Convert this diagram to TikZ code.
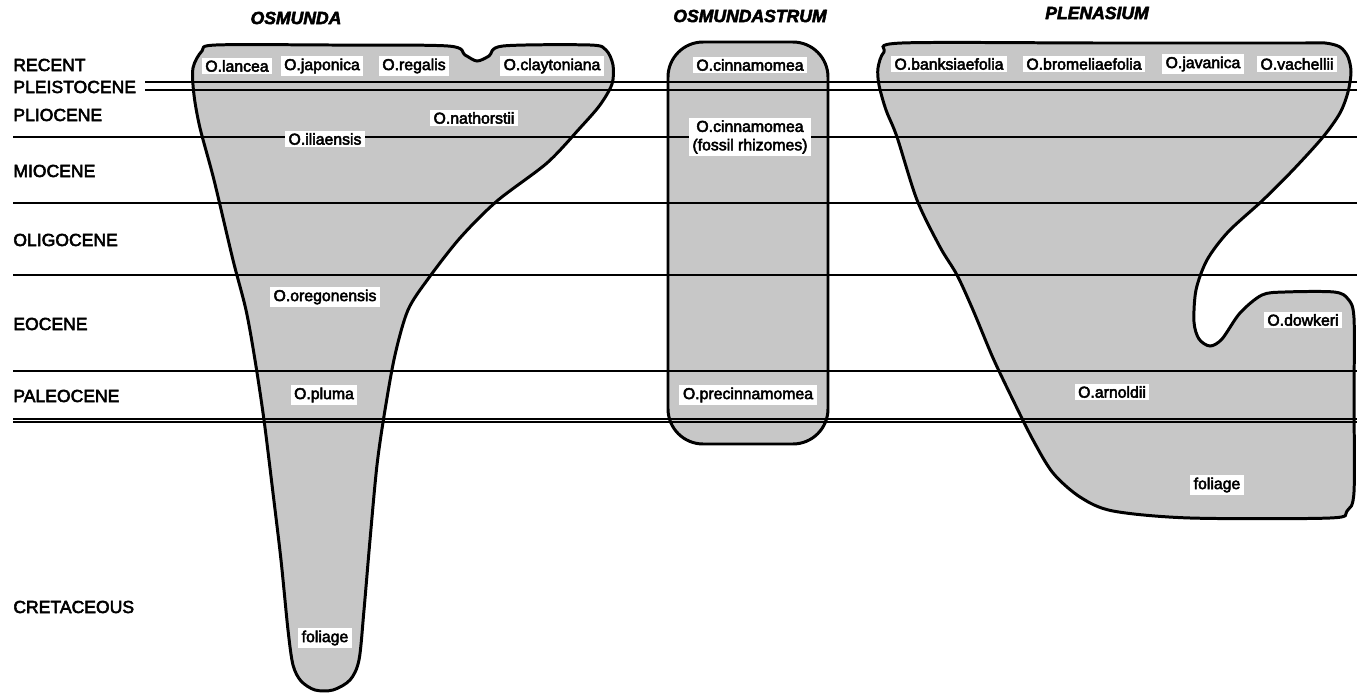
\documentclass[tikz,border=0pt]{standalone}
\usepackage{fontspec}
\setmainfont{Liberation Sans}[FakeBold=3]
\usepackage{tikz}

% outlines of the three ranges (pixel units, y downwards)
\newcommand{\osmundaoutline}{plot[smooth cycle, tension=0.5] coordinates {
  (202,51) (216,45) (330,45) (448,46) (465,55) (477,61) (489,56) (503,46)
  (590,45) (606,50) (613,65) (612,84) (600,105) (580,128) (547,163)
  (497,201) (460,238) (428,279) (408,310) (395,355) (385,410) (377,465)
  (370,540) (364,610) (359,660) (350,680) (333,690) (315,690) (301,681)
  (293,665) (288,630) (281,560) (273,493) (264,420) (255,360) (246,310)
  (233,260) (214,180) (200,128) (194,95) (193,68)}}
\newcommand{\plenasiumoutline}{plot[smooth cycle, tension=0.5] coordinates {
  (884,52) (902,43) (1100,43) (1300,43) (1325,43) (1340,47) (1348,57)
  (1351,72) (1348,92)
  (1340,113) (1323,137) (1293,170) (1263,200) (1228,232) (1207,260)
  (1196,290) (1194,322) (1199,339) (1210,346) (1222,339) (1240,313)
  (1262,295) (1285,292) (1334,292) (1348,299) (1354,318) (1354,400)
  (1354,492) (1347,511) (1330,518) (1190,518) (1113,511) (1080,497)
  (1053,473) (1033,440) (1013,400) (993,358) (973,310) (957,275)
  (940,247) (917,200) (897,137) (886,110) (879,85) (878,68)}}
\newcommand{\osmundastrumoutline}{[rounded corners=20] (668,42) rectangle (828,444)}

\tikzset{
  era/.style={anchor=west, inner sep=0pt, font=\fontsize{10}{12}\selectfont},
  taxon/.style={inner sep=0pt, font=\fontsize{10}{12}\selectfont\bfseries\itshape},
  species/.style={fill=white, inner xsep=2pt, inner ysep=1.5pt, align=center,
    font=\fontsize{9}{10.5}\selectfont},
  rangeline/.style={draw=black, line width=1.7pt},
  epoch/.style={line width=0.6pt}
}

\begin{document}
\begin{tikzpicture}[x=0.02cm, y=-0.02cm]
  \useasboundingbox (0,0) rectangle (1357,693);

  % shaded ranges
  \fill[black!22] \osmundaoutline;
  \fill[black!22] \osmundastrumoutline;
  \fill[black!22] \plenasiumoutline;

  % epoch boundaries
  \foreach \y in {137,203,275,371,419,422}
    \draw[epoch] (13,\y) -- (1357,\y);
  \foreach \y in {82,90}
    \draw[epoch] (145,\y) -- (1357,\y);

  \draw[rangeline] \osmundaoutline;
  \draw[rangeline] \osmundastrumoutline;
  \draw[rangeline] \plenasiumoutline;

  % epochs
  \foreach \name/\y in {RECENT/65,PLEISTOCENE/87,PLIOCENE/115,MIOCENE/171,
      OLIGOCENE/240,EOCENE/324,PALEOCENE/396,CRETACEOUS/607}
    \node[era] (\name) at (13,\y) {\name};

  % subgenera
  \node[taxon] (osmunda) at (296,18) {OSMUNDA};
  \node[taxon] (osmundastrum) at (750,16) {OSMUNDASTRUM};
  \node[taxon] (plenasium) at (1097,13) {PLENASIUM};

  % Osmunda
  \node[species] (lancea) at (237,66) {O.lancea};
  \node[species] (japonica) at (322,66) {O.japonica};
  \node[species] (regalis) at (414,66) {O.regalis};
  \node[species] (claytoniana) at (552,66) {O.claytoniana};
  \node[species] (nathorstii) at (474,118) {O.nathorstii};
  \node[species] (iliaensis) at (325,139) {O.iliaensis};
  \node[species] (oregonensis) at (325,297) {O.oregonensis};
  \node[species] (pluma) at (324,395) {O.pluma};
  \node[species] (foliage-a) at (325,638) {foliage};

  % Osmundastrum
  \node[species] (cinnamomea) at (750,65) {O.cinnamomea};
  \node[species] (rhizomes) at (750,137) {O.cinnamomea\\(fossil rhizomes)};
  \node[species] (precinnamomea) at (748,395) {O.precinnamomea};

  % Plenasium
  \node[species] (banksiaefolia) at (949,64) {O.banksiaefolia};
  \node[species] (bromeliaefolia) at (1084,64) {O.bromeliaefolia};
  \node[species] (javanica) at (1203,64) {O.javanica};
  \node[species] (vachellii) at (1297,64) {O.vachellii};
  \node[species] (dowkeri) at (1303,320) {O.dowkeri};
  \node[species] (arnoldii) at (1112,392) {O.arnoldii};
  \node[species] (foliage-b) at (1217,485) {foliage};
\end{tikzpicture}
\end{document}
